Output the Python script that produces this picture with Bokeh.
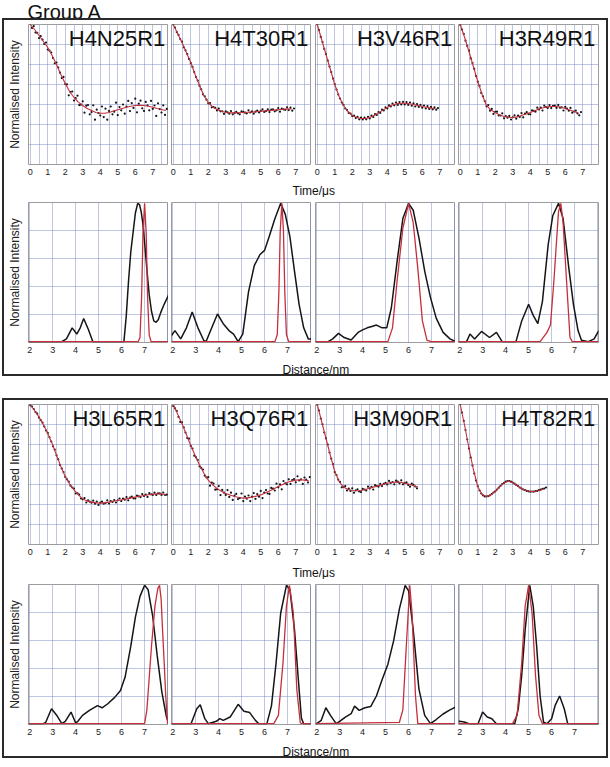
import numpy as np
from bokeh.plotting import figure
from bokeh.layouts import row, column
from bokeh.models import Range1d, FixedTicker, Label, Spacer, Grid
from bokeh.embed import file_html
from bokeh.resources import INLINE

FONT = "Liberation Sans"
RED = "#c42f3b"
BLACK = "#151515"
GRID = "#7d8cc4"
FRAME = "#2a2a2a"

GROUP_TITLE = "Group A"
NAMES_1 = ["H4N25R1", "H4T30R1", "H3V46R1", "H3R49R1"]
NAMES_2 = ["H3L65R1", "H3Q76R1", "H3M90R1", "H4T82R1"]
TIME_TICKS = [0, 1, 2, 3, 4, 5, 6, 7]
DIST_TICKS = [2, 3, 4, 5, 6, 7]

# ---- time-domain data (normalised intensity, 0-7 grid units), sampled every 0.1 us ----
DATA_H4N25R1 = [7.05, 6.83, 6.92, 6.6, 6.58, 6.32, 6.42, 6.24, 6.03, 6.1, 5.75, 5.69, 5.6, 5.32, 5.06, 5.1, 4.85,
                4.59, 4.32, 4.38, 4.02, 4.01, 3.46, 3.62, 3.65, 3.2, 3.32, 3.44, 2.97, 2.99, 3.16, 2.59, 2.94, 2.97,
                2.51, 2.62, 2.96, 2.24, 2.74, 2.57, 2.45, 2.9, 2.37, 2.79, 2.24, 2.68, 2.9, 2.51, 2.64, 3.09, 2.47,
                2.87, 2.71, 3.0, 2.54, 2.9, 3.18, 2.67, 3.07, 2.83, 3.29, 2.61, 3.04, 3.19, 2.81, 2.68, 3.13, 2.96,
                2.71, 3.18, 2.78, 2.95, 2.43, 3.06, 2.77, 2.6, 2.96, 2.48, 2.78]
DATA_H4T30R1 = [7.0, 6.85, 6.62, 6.48, 6.27, 6.14, 5.86, 5.71, 5.52, 5.28, 5.07, 4.88, 4.62, 4.37, 4.2, 3.94, 3.76,
                3.51, 3.41, 3.24, 3.06, 3.07, 2.86, 2.87, 2.83, 2.7, 2.79, 2.66, 2.66, 2.53, 2.66, 2.61, 2.54, 2.67,
                2.51, 2.58, 2.63, 2.56, 2.51, 2.66, 2.63, 2.59, 2.55, 2.71, 2.6, 2.66, 2.54, 2.64, 2.7, 2.6, 2.68,
                2.76, 2.63, 2.67, 2.76, 2.62, 2.74, 2.76, 2.66, 2.71, 2.82, 2.64, 2.79, 2.76, 2.73, 2.86, 2.72, 2.84,
                2.69, 2.8]
DATA_H3V46R1 = [7.0, 6.72, 6.38, 6.12, 5.78, 5.52, 5.2, 4.9, 4.62, 4.3, 4.02, 3.75, 3.5, 3.3, 3.1, 2.98, 2.8, 2.72,
                2.58, 2.55, 2.42, 2.45, 2.32, 2.38, 2.26, 2.35, 2.25, 2.34, 2.26, 2.38, 2.3, 2.44, 2.38, 2.52, 2.48,
                2.62, 2.58, 2.74, 2.7, 2.86, 2.8, 2.96, 2.9, 3.05, 2.96, 3.1, 2.98, 3.12, 3.0, 3.13, 3.0, 3.12, 2.98,
                3.1, 2.94, 3.06, 2.9, 3.02, 2.88, 2.98, 2.84, 2.95, 2.8, 2.92, 2.78, 2.88, 2.76, 2.86, 2.74, 2.82]
DATA_H3R49R1 = [6.98, 6.75, 6.53, 6.19, 5.93, 5.69, 5.31, 5.07, 4.78, 4.42, 4.14, 3.93, 3.58, 3.41, 3.17, 2.91, 2.97,
                2.69, 2.78, 2.53, 2.63, 2.64, 2.45, 2.45, 2.56, 2.31, 2.42, 2.34, 2.43, 2.25, 2.36, 2.46, 2.29, 2.44,
                2.38, 2.57, 2.36, 2.54, 2.62, 2.52, 2.51, 2.71, 2.68, 2.64, 2.84, 2.75, 2.84, 2.7, 2.94, 2.87, 2.83,
                2.97, 2.82, 2.93, 2.94, 2.83, 2.98, 2.84, 2.86, 2.7, 2.88, 2.8, 2.69, 2.83, 2.59, 2.65, 2.69, 2.55,
                2.46, 2.62]
DATA_H3L65R1 = [6.96, 6.9, 6.77, 6.62, 6.54, 6.34, 6.22, 6.09, 5.9, 5.7, 5.58, 5.36, 5.15, 4.91, 4.74, 4.46, 4.26,
                3.97, 3.8, 3.62, 3.38, 3.26, 3.14, 2.94, 2.85, 2.8, 2.55, 2.56, 2.49, 2.3, 2.26, 2.32, 2.1, 2.21, 2.14,
                2.09, 2.19, 2.04, 2.14, 1.98, 2.09, 2.14, 2.04, 2.08, 2.21, 2.05, 2.17, 2.13, 2.22, 2.1, 2.21, 2.3,
                2.17, 2.29, 2.24, 2.37, 2.21, 2.34, 2.4, 2.31, 2.3, 2.44, 2.41, 2.37, 2.52, 2.43, 2.5, 2.38, 2.57,
                2.51, 2.48, 2.59, 2.48, 2.56, 2.56, 2.48, 2.6, 2.48, 2.49]
DATA_H3Q76R1 = [6.92, 6.81, 6.68, 6.38, 6.13, 6.11, 5.86, 5.6, 5.32, 5.29, 4.93, 4.8, 4.44, 4.36, 4.23, 3.91, 3.83,
                3.75, 3.44, 3.35, 3.37, 2.94, 3.1, 3.05, 2.74, 2.76, 2.92, 2.47, 2.73, 2.59, 2.48, 2.72, 2.38, 2.59,
                2.23, 2.44, 2.53, 2.27, 2.32, 2.55, 2.17, 2.39, 2.29, 2.45, 2.17, 2.39, 2.57, 2.28, 2.52, 2.39, 2.68,
                2.32, 2.59, 2.72, 2.55, 2.53, 2.83, 2.79, 2.7, 3.04, 2.86, 3.01, 2.76, 3.17, 3.06, 3.01, 3.26, 3.03,
                3.22, 3.27, 3.11, 3.41, 3.2, 3.26, 3.03, 3.35, 3.24, 3.1, 3.37]
DATA_H3M90R1 = [6.99, 6.7, 6.3, 6.01, 5.6, 5.31, 5.0, 4.6, 4.29, 4.02, 3.62, 3.47, 3.24, 3.13, 2.86, 2.88, 2.92, 2.7,
                2.79, 2.68, 2.81, 2.59, 2.71, 2.76, 2.65, 2.62, 2.78, 2.75, 2.7, 2.89, 2.8, 2.88, 2.75, 2.97, 2.92,
                2.89, 3.03, 2.92, 3.03, 3.08, 3.0, 3.18, 3.08, 3.12, 3.01, 3.19, 3.14, 3.06, 3.21, 3.01, 3.07, 3.11,
                2.98, 2.89, 3.04, 2.98, 2.9, 2.81]
DATA_H4T82R1 = [7.0, 6.6, 6.18, 5.72, 5.25, 4.8, 4.35, 3.95, 3.55, 3.2, 2.92, 2.7, 2.55, 2.46, 2.4, 2.4, 2.42, 2.46,
                2.52, 2.6, 2.66, 2.75, 2.84, 2.93, 3.02, 3.08, 3.14, 3.17, 3.17, 3.14, 3.1, 3.04, 2.98, 2.92, 2.85,
                2.8, 2.75, 2.72, 2.68, 2.66, 2.64, 2.65, 2.64, 2.67, 2.68, 2.72, 2.74, 2.78, 2.8, 2.85]

# ---- fits, sampled every 0.25 us ----
FIT_H4N25R1 = [7.0, 6.75, 6.45, 6.15, 5.85, 5.45, 5.0, 4.5, 4.05, 3.65, 3.35, 3.12, 2.95, 2.8, 2.7, 2.6, 2.56, 2.56,
               2.6, 2.67, 2.74, 2.8, 2.86, 2.91, 2.95, 2.96, 2.95, 2.91, 2.86, 2.8, 2.75, 2.7]
FIT_H4T30R1 = [7.0, 6.55, 6.1, 5.6, 5.1, 4.5, 3.95, 3.45, 3.1, 2.88, 2.75, 2.66, 2.6, 2.58, 2.58, 2.59, 2.6, 2.61,
               2.62, 2.64, 2.66, 2.68, 2.7, 2.72, 2.74, 2.76, 2.77, 2.78]
FIT_H3V46R1 = [7.0, 6.25, 5.5, 4.75, 4.0, 3.4, 2.95, 2.65, 2.45, 2.35, 2.3, 2.3, 2.35, 2.45, 2.58, 2.72, 2.85, 2.96,
               3.03, 3.06, 3.06, 3.04, 3.0, 2.95, 2.9, 2.86, 2.82, 2.79]
FIT_H3R49R1 = [7.0, 6.35, 5.65, 4.9, 4.15, 3.5, 2.95, 2.72, 2.6, 2.48, 2.4, 2.36, 2.35, 2.38, 2.45, 2.52, 2.6, 2.69,
               2.78, 2.84, 2.88, 2.9, 2.9, 2.86, 2.8, 2.73, 2.65, 2.57]
FIT_H3L65R1 = [7.0, 6.7, 6.37, 6.0, 5.55, 5.05, 4.47, 3.9, 3.4, 3.02, 2.73, 2.48, 2.28, 2.18, 2.12, 2.08, 2.07, 2.08,
               2.12, 2.16, 2.2, 2.24, 2.28, 2.33, 2.37, 2.41, 2.45, 2.49, 2.52, 2.54, 2.53, 2.49]
FIT_H3Q76R1 = [7.0, 6.52, 6.03, 5.5, 4.95, 4.45, 3.97, 3.56, 3.22, 2.98, 2.8, 2.66, 2.55, 2.47, 2.4, 2.35, 2.32, 2.33,
               2.37, 2.42, 2.48, 2.57, 2.68, 2.79, 2.9, 3.0, 3.1, 3.17, 3.22, 3.24, 3.22, 3.18]
FIT_H3M90R1 = [7.0, 6.15, 5.3, 4.45, 3.65, 3.15, 2.87, 2.75, 2.7, 2.69, 2.7, 2.75, 2.82, 2.88, 2.94, 3.0, 3.06, 3.1,
               3.12, 3.11, 3.07, 3.01, 2.94, 2.87]
FIT_H4T82R1 = [7.0, 5.95, 4.8, 3.75, 2.9, 2.5, 2.4, 2.48, 2.65, 2.88, 3.08, 3.17, 3.1, 2.95, 2.8, 2.7, 2.65, 2.65,
               2.7, 2.78]

# ---- distance distributions: black = measured, red = modelled ----
R_BLK_H4N25R1 = [1.95, 2.0, 3.0, 3.4, 3.6, 3.85, 4.05, 4.2, 4.35, 4.55, 4.75, 5.0, 6.0, 6.1, 6.2, 6.3, 6.4, 6.5, 6.6,
                 6.7, 6.78, 6.85, 6.92, 7.0, 7.1, 7.2, 7.3, 7.4, 7.5, 7.6, 7.7, 7.85, 8.05]
P_BLK_H4N25R1 = [0, 0, 0, 0, 0.02, 0.10, 0.055, 0.1, 0.167, 0.09, 0, 0, 0, 0, 0.18, 0.435, 0.65, 0.79, 0.93, 1.0,
                 0.99, 0.94, 0.86, 0.72, 0.52, 0.34, 0.22, 0.15, 0.14, 0.16, 0.21, 0.27, 0.34]
R_RED_H4N25R1 = [1.95, 6.72, 6.8, 6.87, 6.93, 7.0, 7.07, 7.13, 7.2, 7.28, 8.05]
P_RED_H4N25R1 = [0, 0, 0.03, 0.32, 0.78, 1.0, 0.78, 0.32, 0.05, 0, 0]

R_BLK_H4T30R1 = [1.95, 2.1, 2.35, 2.6, 2.85, 3.1, 3.35, 3.45, 3.7, 3.95, 4.2, 4.45, 4.65, 4.85, 5.05, 5.3, 5.55, 5.8,
                 6.0, 6.2, 6.45, 6.7, 6.9, 7.1, 7.3, 7.5, 7.7, 7.9, 8.05]
P_BLK_H4T30R1 = [0.045, 0.08, 0.02, 0.1, 0.214, 0.1, 0.01, 0, 0.1, 0.2, 0.13, 0.08, 0.055, 0, 0.055, 0.36, 0.55, 0.63,
                 0.66, 0.76, 0.89, 1.0, 0.92, 0.76, 0.51, 0.27, 0.1, 0.02, 0.02]
R_RED_H4T30R1 = [1.95, 6.45, 6.55, 6.62, 6.68, 6.75, 6.82, 6.88, 6.95, 7.05, 8.05]
P_RED_H4T30R1 = [0, 0, 0.05, 0.35, 0.8, 1.0, 0.8, 0.35, 0.05, 0, 0]

R_BLK_H3V46R1 = [1.95, 2.5, 2.7, 2.95, 3.2, 3.5, 3.8, 4.0, 4.2, 4.4, 4.6, 4.85, 5.05, 5.25, 5.5, 5.75, 6.0, 6.2, 6.45,
                 6.7, 6.95, 7.2, 7.5, 7.8, 8.05]
P_BLK_H3V46R1 = [0, 0, 0.02, 0.06, 0.03, 0.012, 0.067, 0.085, 0.1, 0.11, 0.12, 0.1, 0.1, 0.245, 0.58, 0.89, 1.0, 0.95,
                 0.75, 0.51, 0.32, 0.17, 0.067, 0.02, 0]
R_RED_H3V46R1 = [1.95, 5.1, 5.3, 5.5, 5.75, 6.0, 6.2, 6.4, 6.6, 6.8, 7.0, 8.05]
P_RED_H3V46R1 = [0, 0, 0.1, 0.44, 0.82, 1.0, 0.86, 0.53, 0.15, 0.01, 0, 0]

R_BLK_H3R49R1 = [1.95, 2.3, 2.45, 2.65, 2.95, 3.3, 3.6, 3.85, 4.45, 4.7, 5.0, 5.2, 5.4, 5.6, 5.85, 6.05, 6.3, 6.5,
                 6.75, 6.95, 7.15, 7.3, 7.6, 7.85, 8.05]
P_BLK_H3R49R1 = [0, 0, 0.055, 0.02, 0.074, 0.03, 0.067, 0, 0, 0.15, 0.27, 0.19, 0.13, 0.29, 0.7, 0.91, 1.0, 0.89,
                 0.53, 0.27, 0.08, 0.01, 0, 0.02, 0.08]
R_RED_H3R49R1 = [1.95, 5.5, 5.8, 5.95, 6.1, 6.3, 6.4, 6.5, 6.65, 6.8, 6.9, 8.05]
P_RED_H3R49R1 = [0, 0, 0.067, 0.12, 0.44, 0.94, 1.0, 0.86, 0.44, 0.03, 0, 0]

R_BLK_H3L65R1 = [1.95, 2.6, 2.7, 2.95, 3.2, 3.4, 3.55, 3.8, 4.0, 4.1, 4.3, 4.6, 4.95, 5.15, 5.4, 5.7, 5.95, 6.15,
                 6.4, 6.6, 6.8, 7.0, 7.15, 7.35, 7.55, 7.75, 7.95, 8.05]
P_BLK_H3L65R1 = [0, 0, 0.01, 0.108, 0.055, 0, 0.017, 0.084, 0.005, 0.017, 0.06, 0.096, 0.13, 0.115, 0.144, 0.19,
                 0.24, 0.335, 0.56, 0.77, 0.92, 1.0, 0.97, 0.78, 0.49, 0.23, 0.05, 0.0]
R_RED_H3L65R1 = [1.95, 7.0, 7.1, 7.3, 7.45, 7.58, 7.65, 7.72, 7.78, 7.85, 7.92, 8.0, 8.05]
P_RED_H3L65R1 = [0, 0, 0.1, 0.56, 0.85, 0.98, 1.0, 0.9, 0.68, 0.45, 0.2, 0, 0]

R_BLK_H3Q76R1 = [1.95, 2.8, 3.05, 3.2, 3.4, 3.55, 3.9, 4.05, 4.2, 4.5, 4.85, 5.1, 5.35, 5.6, 5.75, 6.1, 6.3, 6.5, 6.7,
                 6.95, 7.1, 7.3, 7.5, 7.6, 7.7, 8.05]
P_BLK_H3Q76R1 = [0, 0, 0.108, 0.136, 0.036, 0, 0.017, 0.036, 0.024, 0.048, 0.14, 0.09, 0.08, 0.024, 0, 0, 0.13, 0.44,
                 0.8, 1.0, 0.97, 0.68, 0.25, 0.04, 0, 0]
R_RED_H3Q76R1 = [1.95, 6.4, 6.6, 6.8, 6.95, 7.08, 7.25, 7.4, 7.55, 7.6, 8.05]
P_RED_H3Q76R1 = [0, 0, 0.06, 0.44, 0.85, 1.0, 0.8, 0.25, 0.01, 0, 0]

R_BLK_H3M90R1 = [1.95, 2.0, 2.2, 2.4, 2.6, 2.85, 3.0, 3.25, 3.5, 3.65, 3.85, 4.1, 4.35, 4.6, 4.85, 5.1, 5.35, 5.6,
                 5.85, 6.0, 6.2, 6.45, 6.7, 6.95, 7.2, 7.5, 7.8, 8.05]
P_BLK_H3M90R1 = [0, 0, 0.024, 0.115, 0.06, 0, 0.017, 0.048, 0.072, 0.127, 0.096, 0.115, 0.124, 0.2, 0.32, 0.43, 0.6,
                 0.83, 1.0, 0.96, 0.68, 0.25, 0.06, 0, 0.03, 0.07, 0.1, 0.12]
R_RED_H3M90R1 = [1.95, 5.6, 5.75, 5.9, 6.05, 6.15, 6.3, 6.4, 8.05]
P_RED_H3M90R1 = [0, 0.01, 0.1, 0.56, 1.0, 0.8, 0.2, 0, 0]

R_BLK_H4T82R1 = [1.95, 2.0, 2.2, 2.4, 2.8, 3.0, 3.2, 3.4, 3.6, 4.4, 4.55, 4.7, 4.85, 5.05, 5.2, 5.35, 5.5, 5.65, 5.8,
                 6.0, 6.15, 6.35, 6.55, 6.7, 8.05]
P_BLK_H4T82R1 = [0.015, 0.017, 0.012, 0, 0, 0.084, 0.048, 0.036, 0, 0, 0.108, 0.35, 0.68, 1.0, 0.85, 0.56, 0.2, 0.01,
                 0, 0.036, 0.13, 0.2, 0.108, 0, 0]
R_RED_H4T82R1 = [1.95, 4.3, 4.5, 4.7, 4.85, 5.0, 5.15, 5.3, 5.45, 5.6, 8.05]
P_RED_H4T82R1 = [0, 0, 0.06, 0.44, 0.85, 1.0, 0.8, 0.35, 0.06, 0, 0]

TIME_1 = [(NAMES_1[0], DATA_H4N25R1, FIT_H4N25R1), (NAMES_1[1], DATA_H4T30R1, FIT_H4T30R1),
          (NAMES_1[2], DATA_H3V46R1, FIT_H3V46R1), (NAMES_1[3], DATA_H3R49R1, FIT_H3R49R1)]
TIME_2 = [(NAMES_2[0], DATA_H3L65R1, FIT_H3L65R1), (NAMES_2[1], DATA_H3Q76R1, FIT_H3Q76R1),
          (NAMES_2[2], DATA_H3M90R1, FIT_H3M90R1), (NAMES_2[3], DATA_H4T82R1, FIT_H4T82R1)]
DIST_1 = [(R_BLK_H4N25R1, P_BLK_H4N25R1, R_RED_H4N25R1, P_RED_H4N25R1),
          (R_BLK_H4T30R1, P_BLK_H4T30R1, R_RED_H4T30R1, P_RED_H4T30R1),
          (R_BLK_H3V46R1, P_BLK_H3V46R1, R_RED_H3V46R1, P_RED_H3V46R1),
          (R_BLK_H3R49R1, P_BLK_H3R49R1, R_RED_H3R49R1, P_RED_H3R49R1)]
DIST_2 = [(R_BLK_H3L65R1, P_BLK_H3L65R1, R_RED_H3L65R1, P_RED_H3L65R1),
          (R_BLK_H3Q76R1, P_BLK_H3Q76R1, R_RED_H3Q76R1, P_RED_H3Q76R1),
          (R_BLK_H3M90R1, P_BLK_H3M90R1, R_RED_H3M90R1, P_RED_H3M90R1),
          (R_BLK_H4T82R1, P_BLK_H4T82R1, R_RED_H4T82R1, P_RED_H4T82R1)]

# layout: (min_border_left, min_border_right) for the 4 columns
COL_BORDERS = [(24, 0), (3, 0), (4, 0), (3, 8)]
BOTTOM = 14
FRAME_PX = 140
INNER_W = 602


def base_fig(xr, yr, first, left, right, top, bottom, xticks, xgrid, ygrid):
    p = figure(width=left + FRAME_PX + right, height=top + FRAME_PX + bottom, x_range=xr, y_range=yr,
               output_backend="svg", toolbar_location=None,
               y_axis_location="left" if first else None,
               min_border_left=left, min_border_right=right,
               min_border_top=top, min_border_bottom=bottom,
               background_fill_color="white", border_fill_color="white")
    p.outline_line_color = "#9c9c9c"
    p.outline_line_width = 1
    p.xgrid.visible = False
    p.ygrid.visible = False
    p.add_layout(Grid(dimension=0, ticker=FixedTicker(ticks=xgrid), grid_line_color=GRID,
                      grid_line_dash="1 1", grid_line_width=1))
    p.add_layout(Grid(dimension=1, ticker=FixedTicker(ticks=ygrid), grid_line_color=GRID,
                      grid_line_dash="1 1", grid_line_width=1))
    ax = p.xaxis[0]
    ax.ticker = FixedTicker(ticks=xticks)
    ax.major_label_text_font = FONT
    ax.major_label_text_font_size = "9px"
    ax.major_label_text_color = "#222222"
    ax.major_tick_line_color = None
    ax.minor_tick_line_color = None
    ax.axis_line_color = None
    ax.major_tick_out = 0
    ax.major_tick_in = 0
    ax.major_label_standoff = 4
    if first:
        ay = p.yaxis[0]
        ay.ticker = FixedTicker(ticks=[])
        ay.major_label_text_font_size = "0px"
        ay.major_tick_line_color = None
        ay.minor_tick_line_color = None
        ay.axis_line_color = None
        ay.major_tick_out = 0
        ay.major_tick_in = 0
        ay.major_label_standoff = 0
        ay.axis_label = "Normalised Intensity"
        ay.axis_label_text_font = FONT
        ay.axis_label_text_font_size = "12px"
        ay.axis_label_text_font_style = "normal"
        ay.axis_label_text_color = "#222222"
        ay.axis_label_standoff = 7
    return p


def time_fig(idx, name, data, fit, top):
    left, right = COL_BORDERS[idx]
    p = base_fig(Range1d(-0.1, 7.9), Range1d(0, 7), idx == 0, left, right, top, BOTTOM,
                 TIME_TICKS, [k * 0.5 for k in range(16)], [1, 2, 3, 4, 5, 6])
    t = np.arange(len(data)) * 0.1
    tf = np.arange(len(fit)) * 0.25
    p.scatter(t, data, size=2.2, fill_color=BLACK, line_color=None)
    p.line(tf, fit, line_color=RED, line_width=1.1)
    p.add_layout(Label(x=7.72, y=6.93, text=name, text_align="right", text_baseline="top",
                       text_font=FONT, text_font_size="22px", text_color="#111111"))
    return p


def dist_fig(idx, rb, pb, rr, pr, top):
    left, right = COL_BORDERS[idx]
    p = base_fig(Range1d(1.95, 8.04), Range1d(-0.006, 1.006), idx == 0, left, right, top, BOTTOM,
                 DIST_TICKS, [2, 3, 4, 5, 6, 7, 8], [0.2, 0.4, 0.6, 0.8])
    p.line(rb, pb, line_color=BLACK, line_width=1.5)
    p.line(rr, pr, line_color=RED, line_width=1.3)
    return p


def caption(text, w, h, x, y, size):
    p = figure(width=w, height=h, x_range=Range1d(0, w), y_range=Range1d(0, h),
               output_backend="svg", toolbar_location=None, min_border=0,
               x_axis_location=None, y_axis_location=None,
               background_fill_color="white", border_fill_color="white")
    p.outline_line_color = None
    p.xgrid.visible = False
    p.ygrid.visible = False
    p.add_layout(Label(x=x, y=y, text=text, text_font=FONT, text_font_size=size,
                       text_color="#111111", text_baseline="alphabetic"))
    return p


def bar(w, h):
    return Spacer(width=w, height=h, styles={"background-color": FRAME})


def box(time_sets, dist_sets, t_top, cap1_h, cap1_y, cap2_h, cap2_y):
    trow = row([time_fig(i, n, d, f, t_top) for i, (n, d, f) in enumerate(time_sets)], spacing=0)
    drow = row([dist_fig(i, *s, 5) for i, s in enumerate(dist_sets)], spacing=0)
    c1 = caption("Time/\u03bcs", INNER_W, cap1_h, 288, cap1_y, "12px")
    c2 = caption("Distance/nm", INNER_W, cap2_h, 278, cap2_y, "12px")
    inner = column([trow, c1, drow, c2], spacing=0)
    inner_h = (t_top + FRAME_PX + BOTTOM) + cap1_h + (5 + FRAME_PX + BOTTOM) + cap2_h
    mid = row([bar(2, inner_h), inner, bar(2, inner_h)], spacing=0)
    return column([bar(INNER_W + 4, 2), mid, bar(INNER_W + 4, 2)], spacing=0)


title = caption(GROUP_TITLE, 606, 26, 25, 6.5, "20px")
box1 = box(TIME_1, DIST_1, 4, 19, 7, 18, 5)
box2 = box(TIME_2, DIST_2, 4, 21, 7, 18, 5)

root = column([title, box1, Spacer(width=606, height=22), box2], spacing=0,
              styles={"margin-left": "2px", "margin-top": "-8px"})

open("out.html", "w").write(file_html(root, INLINE))
